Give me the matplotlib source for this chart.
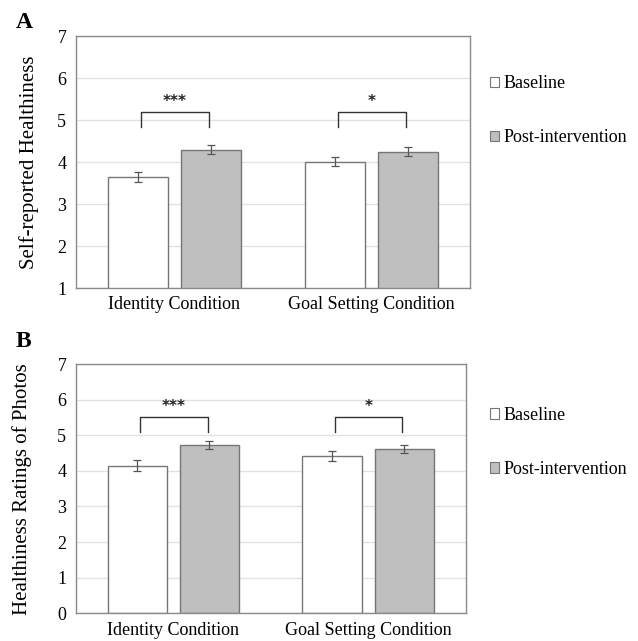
import numpy as np
import matplotlib.pyplot as plt
from matplotlib.patches import Patch

plt.rcParams['font.family'] = ['Liberation Serif', 'DejaVu Serif']

conditions = ['Identity Condition', 'Goal Setting Condition']
groups = ['Baseline', 'Post-intervention']

# Painel A: autorrelato
self_base = [3.65, 4.01]
self_base_err = [0.12, 0.11]
self_post = [4.29, 4.25]
self_post_err = [0.11, 0.10]
self_stars = ['***', '*']

# Painel B: avaliações das fotos
photo_base = [4.15, 4.42]
photo_base_err = [0.15, 0.13]
photo_post = [4.73, 4.61]
photo_post_err = [0.11, 0.12]
photo_stars = ['***', '*']

edge = '#767676'
post_color = '#bfbfbf'


def draw_panel(ax, base, base_err, post, post_err, stars, ymin, ylabel,
               br_top, br_bottom, star_y, ylabelpad):
    x = np.arange(len(conditions))
    off, w = 0.185, 0.305
    ax.bar(x - off, base, w, color='white', edgecolor=edge, linewidth=1.0, zorder=2)
    ax.bar(x + off, post, w, color=post_color, edgecolor=edge, linewidth=1.0, zorder=2)
    ax.errorbar(x - off, base, yerr=base_err, fmt='none', ecolor='#555555',
                elinewidth=0.9, capsize=3, capthick=0.9, zorder=3)
    ax.errorbar(x + off, post, yerr=post_err, fmt='none', ecolor='#555555',
                elinewidth=0.9, capsize=3, capthick=0.9, zorder=3)
    for i, s in enumerate(stars):
        xl, xr = x[i] - off + 0.015, x[i] + off - 0.01
        ax.plot([xl, xl, xr, xr], [br_bottom, br_top, br_top, br_bottom],
                color='#333333', lw=1.0, zorder=3)
        ax.text(x[i], star_y, s, ha='center', va='center', fontsize=11,
                fontweight='bold', family='DejaVu Sans', color='#222222')
    ax.set_xlim(-0.5, 1.5)
    ax.set_ylim(ymin, 7)
    ax.set_yticks(range(ymin, 8))
    ax.set_xticks(x)
    ax.set_xticklabels(conditions)
    ax.yaxis.grid(True, color='#e2e2e2', lw=1.0, zorder=0)
    ax.set_axisbelow(True)
    for sp in ax.spines.values():
        sp.set_color('#8a8a8a')
        sp.set_linewidth(1.0)
    ax.tick_params(length=0, labelsize=13, pad=6)
    ax.tick_params(axis='y', pad=7)
    ax.set_ylabel(ylabel, fontsize=15, labelpad=ylabelpad)


fig = plt.figure(figsize=(6.38, 6.41), dpi=100)
ax1 = fig.add_axes([0.1191, 0.5507, 0.6176, 0.3931])
ax2 = fig.add_axes([0.1191, 0.0432, 0.6108, 0.3889])

draw_panel(ax1, self_base, self_base_err, self_post, self_post_err, self_stars,
           1, 'Self-reported Healthiness', 5.18, 4.84, 5.45, 13)
draw_panel(ax2, photo_base, photo_base_err, photo_post, photo_post_err, photo_stars,
           0, 'Healthiness Ratings of Photos', 5.5, 5.1, 5.8, 18)

handles = [Patch(facecolor='white', edgecolor=edge, lw=0.8),
           Patch(facecolor=post_color, edgecolor=edge, lw=0.8)]
for y in [0.827, 0.310]:
    fig.legend(handles, groups, loc='center left', bbox_to_anchor=(0.757, y),
               frameon=False, fontsize=13, handlelength=0.5, handleheight=0.5,
               handletextpad=0.25, labelspacing=2.05, borderaxespad=0)

fig.text(0.025, 0.965, 'A', fontsize=17, fontweight='bold', va='center')
fig.text(0.025, 0.468, 'B', fontsize=17, fontweight='bold', va='center')

fig.savefig('out.png', dpi=100)
